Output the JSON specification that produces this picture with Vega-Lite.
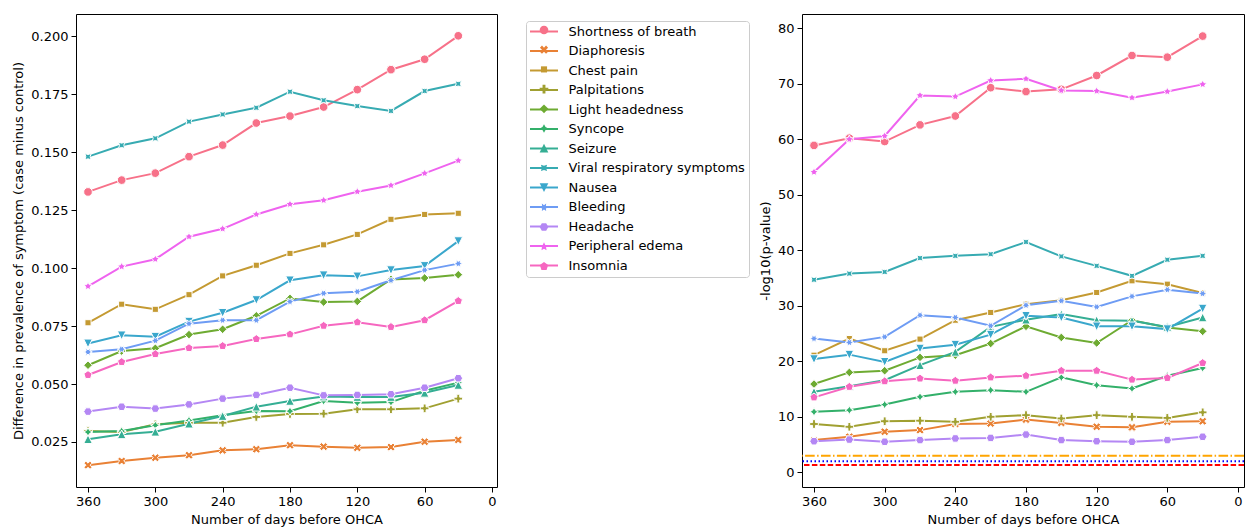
{
  "$schema": "https://vega.github.io/schema/vega-lite/v6.json",
  "background": "white",
  "padding": {"left": 12, "top": 13, "right": 2, "bottom": 4},
  "config": {
    "font": "DejaVu Sans",
    "view": {"stroke": "#000000", "strokeWidth": 1},
    "axis": {
      "grid": false, "domain": false, "labelOverlap": false, "labelFlush": false,
      "labelFont": "DejaVu Sans", "labelFontSize": 13, "labelColor": "#000000", "labelPadding": 3,
      "tickColor": "#000000", "tickSize": 5, "tickWidth": 1,
      "titleFont": "DejaVu Sans", "titleFontSize": 13, "titleFontWeight": "normal", "titleColor": "#000000", "titlePadding": 5
    },
    "legend": {"labelFont": "DejaVu Sans", "labelFontSize": 13, "labelColor": "#000000", "labelLimit": 400}
  },
  "data": {"values": [
    {"symptom": "Shortness of breath", "days": 360, "diff": 0.1328, "logp": 58.9},
    {"symptom": "Shortness of breath", "days": 330, "diff": 0.1379, "logp": 60.2},
    {"symptom": "Shortness of breath", "days": 300, "diff": 0.1409, "logp": 59.6},
    {"symptom": "Shortness of breath", "days": 270, "diff": 0.1480, "logp": 62.6},
    {"symptom": "Shortness of breath", "days": 240, "diff": 0.1530, "logp": 64.2},
    {"symptom": "Shortness of breath", "days": 210, "diff": 0.1625, "logp": 69.3},
    {"symptom": "Shortness of breath", "days": 180, "diff": 0.1655, "logp": 68.6},
    {"symptom": "Shortness of breath", "days": 150, "diff": 0.1694, "logp": 69.0},
    {"symptom": "Shortness of breath", "days": 120, "diff": 0.1769, "logp": 71.5},
    {"symptom": "Shortness of breath", "days": 90, "diff": 0.1855, "logp": 75.1},
    {"symptom": "Shortness of breath", "days": 60, "diff": 0.1900, "logp": 74.8},
    {"symptom": "Shortness of breath", "days": 30, "diff": 0.2001, "logp": 78.6},
    {"symptom": "Diaphoresis", "days": 360, "diff": 0.0150, "logp": 5.8},
    {"symptom": "Diaphoresis", "days": 330, "diff": 0.0168, "logp": 6.4},
    {"symptom": "Diaphoresis", "days": 300, "diff": 0.0182, "logp": 7.3},
    {"symptom": "Diaphoresis", "days": 270, "diff": 0.0193, "logp": 7.6},
    {"symptom": "Diaphoresis", "days": 240, "diff": 0.0214, "logp": 8.7},
    {"symptom": "Diaphoresis", "days": 210, "diff": 0.0219, "logp": 8.8},
    {"symptom": "Diaphoresis", "days": 180, "diff": 0.0236, "logp": 9.5},
    {"symptom": "Diaphoresis", "days": 150, "diff": 0.0230, "logp": 8.9},
    {"symptom": "Diaphoresis", "days": 120, "diff": 0.0225, "logp": 8.2},
    {"symptom": "Diaphoresis", "days": 90, "diff": 0.0228, "logp": 8.1},
    {"symptom": "Diaphoresis", "days": 60, "diff": 0.0251, "logp": 9.1},
    {"symptom": "Diaphoresis", "days": 30, "diff": 0.0259, "logp": 9.2},
    {"symptom": "Chest pain", "days": 360, "diff": 0.0764, "logp": 21.1},
    {"symptom": "Chest pain", "days": 330, "diff": 0.0844, "logp": 24.1},
    {"symptom": "Chest pain", "days": 300, "diff": 0.0822, "logp": 21.9},
    {"symptom": "Chest pain", "days": 270, "diff": 0.0885, "logp": 24.0},
    {"symptom": "Chest pain", "days": 240, "diff": 0.0966, "logp": 27.4},
    {"symptom": "Chest pain", "days": 210, "diff": 0.1012, "logp": 28.8},
    {"symptom": "Chest pain", "days": 180, "diff": 0.1063, "logp": 30.3},
    {"symptom": "Chest pain", "days": 150, "diff": 0.1100, "logp": 31.0},
    {"symptom": "Chest pain", "days": 120, "diff": 0.1145, "logp": 32.4},
    {"symptom": "Chest pain", "days": 90, "diff": 0.1210, "logp": 34.5},
    {"symptom": "Chest pain", "days": 60, "diff": 0.1231, "logp": 33.9},
    {"symptom": "Chest pain", "days": 30, "diff": 0.1236, "logp": 32.3},
    {"symptom": "Palpitations", "days": 360, "diff": 0.0297, "logp": 8.7},
    {"symptom": "Palpitations", "days": 330, "diff": 0.0293, "logp": 8.2},
    {"symptom": "Palpitations", "days": 300, "diff": 0.0326, "logp": 9.2},
    {"symptom": "Palpitations", "days": 270, "diff": 0.0333, "logp": 9.3},
    {"symptom": "Palpitations", "days": 240, "diff": 0.0333, "logp": 9.1},
    {"symptom": "Palpitations", "days": 210, "diff": 0.0358, "logp": 10.0},
    {"symptom": "Palpitations", "days": 180, "diff": 0.0371, "logp": 10.3},
    {"symptom": "Palpitations", "days": 150, "diff": 0.0372, "logp": 9.7},
    {"symptom": "Palpitations", "days": 120, "diff": 0.0391, "logp": 10.3},
    {"symptom": "Palpitations", "days": 90, "diff": 0.0391, "logp": 10.0},
    {"symptom": "Palpitations", "days": 60, "diff": 0.0395, "logp": 9.8},
    {"symptom": "Palpitations", "days": 30, "diff": 0.0437, "logp": 10.8},
    {"symptom": "Light headedness", "days": 360, "diff": 0.0581, "logp": 15.9},
    {"symptom": "Light headedness", "days": 330, "diff": 0.0642, "logp": 18.0},
    {"symptom": "Light headedness", "days": 300, "diff": 0.0654, "logp": 18.3},
    {"symptom": "Light headedness", "days": 270, "diff": 0.0713, "logp": 20.7},
    {"symptom": "Light headedness", "days": 240, "diff": 0.0736, "logp": 21.1},
    {"symptom": "Light headedness", "days": 210, "diff": 0.0794, "logp": 23.2},
    {"symptom": "Light headedness", "days": 180, "diff": 0.0869, "logp": 26.3},
    {"symptom": "Light headedness", "days": 150, "diff": 0.0853, "logp": 24.3},
    {"symptom": "Light headedness", "days": 120, "diff": 0.0856, "logp": 23.3},
    {"symptom": "Light headedness", "days": 90, "diff": 0.0951, "logp": 27.4},
    {"symptom": "Light headedness", "days": 60, "diff": 0.0957, "logp": 26.1},
    {"symptom": "Light headedness", "days": 30, "diff": 0.0971, "logp": 25.4},
    {"symptom": "Syncope", "days": 360, "diff": 0.0293, "logp": 10.9},
    {"symptom": "Syncope", "days": 330, "diff": 0.0297, "logp": 11.2},
    {"symptom": "Syncope", "days": 300, "diff": 0.0322, "logp": 12.2},
    {"symptom": "Syncope", "days": 270, "diff": 0.0343, "logp": 13.6},
    {"symptom": "Syncope", "days": 240, "diff": 0.0365, "logp": 14.5},
    {"symptom": "Syncope", "days": 210, "diff": 0.0384, "logp": 14.8},
    {"symptom": "Syncope", "days": 180, "diff": 0.0383, "logp": 14.5},
    {"symptom": "Syncope", "days": 150, "diff": 0.0427, "logp": 17.1},
    {"symptom": "Syncope", "days": 120, "diff": 0.0419, "logp": 15.7},
    {"symptom": "Syncope", "days": 90, "diff": 0.0422, "logp": 15.1},
    {"symptom": "Syncope", "days": 60, "diff": 0.0471, "logp": 17.4},
    {"symptom": "Syncope", "days": 30, "diff": 0.0506, "logp": 18.8},
    {"symptom": "Seizure", "days": 360, "diff": 0.0262, "logp": 14.5},
    {"symptom": "Seizure", "days": 330, "diff": 0.0283, "logp": 15.5},
    {"symptom": "Seizure", "days": 300, "diff": 0.0294, "logp": 16.6},
    {"symptom": "Seizure", "days": 270, "diff": 0.0329, "logp": 19.3},
    {"symptom": "Seizure", "days": 240, "diff": 0.0362, "logp": 21.7},
    {"symptom": "Seizure", "days": 210, "diff": 0.0402, "logp": 26.2},
    {"symptom": "Seizure", "days": 180, "diff": 0.0427, "logp": 27.5},
    {"symptom": "Seizure", "days": 150, "diff": 0.0446, "logp": 28.5},
    {"symptom": "Seizure", "days": 120, "diff": 0.0444, "logp": 27.4},
    {"symptom": "Seizure", "days": 90, "diff": 0.0444, "logp": 27.3},
    {"symptom": "Seizure", "days": 60, "diff": 0.0462, "logp": 26.2},
    {"symptom": "Seizure", "days": 30, "diff": 0.0496, "logp": 27.9},
    {"symptom": "Viral respiratory symptoms", "days": 360, "diff": 0.1480, "logp": 34.7},
    {"symptom": "Viral respiratory symptoms", "days": 330, "diff": 0.1529, "logp": 35.8},
    {"symptom": "Viral respiratory symptoms", "days": 300, "diff": 0.1559, "logp": 36.1},
    {"symptom": "Viral respiratory symptoms", "days": 270, "diff": 0.1631, "logp": 38.6},
    {"symptom": "Viral respiratory symptoms", "days": 240, "diff": 0.1662, "logp": 39.0},
    {"symptom": "Viral respiratory symptoms", "days": 210, "diff": 0.1691, "logp": 39.3},
    {"symptom": "Viral respiratory symptoms", "days": 180, "diff": 0.1760, "logp": 41.5},
    {"symptom": "Viral respiratory symptoms", "days": 150, "diff": 0.1723, "logp": 38.9},
    {"symptom": "Viral respiratory symptoms", "days": 120, "diff": 0.1698, "logp": 37.2},
    {"symptom": "Viral respiratory symptoms", "days": 90, "diff": 0.1677, "logp": 35.4},
    {"symptom": "Viral respiratory symptoms", "days": 60, "diff": 0.1763, "logp": 38.3},
    {"symptom": "Viral respiratory symptoms", "days": 30, "diff": 0.1794, "logp": 39.0},
    {"symptom": "Nausea", "days": 360, "diff": 0.0675, "logp": 20.4},
    {"symptom": "Nausea", "days": 330, "diff": 0.0710, "logp": 21.2},
    {"symptom": "Nausea", "days": 300, "diff": 0.0704, "logp": 19.9},
    {"symptom": "Nausea", "days": 270, "diff": 0.0769, "logp": 22.3},
    {"symptom": "Nausea", "days": 240, "diff": 0.0807, "logp": 23.0},
    {"symptom": "Nausea", "days": 210, "diff": 0.0862, "logp": 24.8},
    {"symptom": "Nausea", "days": 180, "diff": 0.0947, "logp": 28.2},
    {"symptom": "Nausea", "days": 150, "diff": 0.0969, "logp": 27.9},
    {"symptom": "Nausea", "days": 120, "diff": 0.0964, "logp": 26.3},
    {"symptom": "Nausea", "days": 90, "diff": 0.0991, "logp": 26.3},
    {"symptom": "Nausea", "days": 60, "diff": 0.1009, "logp": 25.8},
    {"symptom": "Nausea", "days": 30, "diff": 0.1116, "logp": 29.5},
    {"symptom": "Bleeding", "days": 360, "diff": 0.0638, "logp": 24.1},
    {"symptom": "Bleeding", "days": 330, "diff": 0.0650, "logp": 23.4},
    {"symptom": "Bleeding", "days": 300, "diff": 0.0687, "logp": 24.4},
    {"symptom": "Bleeding", "days": 270, "diff": 0.0760, "logp": 28.3},
    {"symptom": "Bleeding", "days": 240, "diff": 0.0775, "logp": 27.9},
    {"symptom": "Bleeding", "days": 210, "diff": 0.0775, "logp": 26.4},
    {"symptom": "Bleeding", "days": 180, "diff": 0.0855, "logp": 30.1},
    {"symptom": "Bleeding", "days": 150, "diff": 0.0891, "logp": 30.9},
    {"symptom": "Bleeding", "days": 120, "diff": 0.0898, "logp": 29.8},
    {"symptom": "Bleeding", "days": 90, "diff": 0.0947, "logp": 31.7},
    {"symptom": "Bleeding", "days": 60, "diff": 0.0991, "logp": 32.9},
    {"symptom": "Bleeding", "days": 30, "diff": 0.1019, "logp": 32.2},
    {"symptom": "Headache", "days": 360, "diff": 0.0381, "logp": 5.6},
    {"symptom": "Headache", "days": 330, "diff": 0.0402, "logp": 5.9},
    {"symptom": "Headache", "days": 300, "diff": 0.0394, "logp": 5.5},
    {"symptom": "Headache", "days": 270, "diff": 0.0412, "logp": 5.8},
    {"symptom": "Headache", "days": 240, "diff": 0.0437, "logp": 6.1},
    {"symptom": "Headache", "days": 210, "diff": 0.0453, "logp": 6.2},
    {"symptom": "Headache", "days": 180, "diff": 0.0484, "logp": 6.8},
    {"symptom": "Headache", "days": 150, "diff": 0.0451, "logp": 5.8},
    {"symptom": "Headache", "days": 120, "diff": 0.0453, "logp": 5.6},
    {"symptom": "Headache", "days": 90, "diff": 0.0456, "logp": 5.5},
    {"symptom": "Headache", "days": 60, "diff": 0.0484, "logp": 5.8},
    {"symptom": "Headache", "days": 30, "diff": 0.0525, "logp": 6.4},
    {"symptom": "Peripheral edema", "days": 360, "diff": 0.0921, "logp": 54.1},
    {"symptom": "Peripheral edema", "days": 330, "diff": 0.1006, "logp": 60.0},
    {"symptom": "Peripheral edema", "days": 300, "diff": 0.1038, "logp": 60.6},
    {"symptom": "Peripheral edema", "days": 270, "diff": 0.1135, "logp": 67.9},
    {"symptom": "Peripheral edema", "days": 240, "diff": 0.1169, "logp": 67.7},
    {"symptom": "Peripheral edema", "days": 210, "diff": 0.1231, "logp": 70.6},
    {"symptom": "Peripheral edema", "days": 180, "diff": 0.1275, "logp": 70.9},
    {"symptom": "Peripheral edema", "days": 150, "diff": 0.1292, "logp": 68.8},
    {"symptom": "Peripheral edema", "days": 120, "diff": 0.1329, "logp": 68.7},
    {"symptom": "Peripheral edema", "days": 90, "diff": 0.1356, "logp": 67.5},
    {"symptom": "Peripheral edema", "days": 60, "diff": 0.1408, "logp": 68.6},
    {"symptom": "Peripheral edema", "days": 30, "diff": 0.1463, "logp": 69.9},
    {"symptom": "Insomnia", "days": 360, "diff": 0.0539, "logp": 13.5},
    {"symptom": "Insomnia", "days": 330, "diff": 0.0595, "logp": 15.4},
    {"symptom": "Insomnia", "days": 300, "diff": 0.0629, "logp": 16.4},
    {"symptom": "Insomnia", "days": 270, "diff": 0.0655, "logp": 16.9},
    {"symptom": "Insomnia", "days": 240, "diff": 0.0664, "logp": 16.5},
    {"symptom": "Insomnia", "days": 210, "diff": 0.0694, "logp": 17.1},
    {"symptom": "Insomnia", "days": 180, "diff": 0.0714, "logp": 17.4},
    {"symptom": "Insomnia", "days": 150, "diff": 0.0751, "logp": 18.3},
    {"symptom": "Insomnia", "days": 120, "diff": 0.0766, "logp": 18.3},
    {"symptom": "Insomnia", "days": 90, "diff": 0.0746, "logp": 16.7},
    {"symptom": "Insomnia", "days": 60, "diff": 0.0775, "logp": 17.0},
    {"symptom": "Insomnia", "days": 30, "diff": 0.0858, "logp": 19.7}
  ]},
  "spacing": 260,
  "hconcat": [
    {
      "width": 421,
      "height": 473,
      "layer": [
        {
          "mark": {"type": "line", "strokeWidth": 2},
          "encoding": {
            "x": {"field": "days", "type": "quantitative", "scale": {"domain": [-4.5, 370.7], "reverse": true, "nice": false, "zero": false}, "axis": {"values": [360, 330, 300, 270, 240, 210, 180, 150, 120, 90, 60, 30, 0], "labelAngle": 0, "title": "Number of days before OHCA"}},
            "y": {"field": "diff", "type": "quantitative", "scale": {"domain": [0.0056, 0.2095], "nice": false, "zero": false}, "axis": {"values": [0.025, 0.05, 0.075, 0.1, 0.125, 0.15, 0.175, 0.2], "format": ".3f", "title": "Difference in prevalence of symptom (case minus control)"}},
            "stroke": {
              "field": "symptom", "type": "nominal", "sort": null,
              "scale": {"range": ["#f77189", "#e98135", "#c49a32", "#a0a031", "#6eab32", "#33b06a", "#35ae94", "#37abb2", "#3aa7cc", "#6e9cf4", "#b487f4", "#ef63ef", "#f667c0"]},
              "legend": {"orient": "none", "legendX": 450, "legendY": 7, "title": null, "symbolType": "M-14,0L14,0", "symbolSize": 4, "symbolOffset": 7.5, "symbolStrokeWidth": 2, "labelOffset": 18, "padding": 4, "rowPadding": 5.5, "strokeColor": "#cccccc", "cornerRadius": 3}
            }
          }
        },
        {
          "mark": {"type": "point", "filled": true, "size": 75, "stroke": "white", "strokeWidth": 1, "opacity": 1},
          "encoding": {
            "x": {"field": "days", "type": "quantitative"},
            "y": {"field": "diff", "type": "quantitative"},
            "fill": {
              "field": "symptom", "type": "nominal",
              "scale": {
                "domain": ["Shortness of breath", "Diaphoresis", "Chest pain", "Palpitations", "Light headedness", "Syncope", "Seizure", "Viral respiratory symptoms", "Nausea", "Bleeding", "Headache", "Peripheral edema", "Insomnia"],
                "range": ["#f77189", "#e98135", "#c49a32", "#a0a031", "#6eab32", "#33b06a", "#35ae94", "#37abb2", "#3aa7cc", "#6e9cf4", "#b487f4", "#ef63ef", "#f667c0"]
              },
              "legend": {"orient": "none", "legendX": 457.5, "legendY": 5.5, "title": null, "symbolSize": 75, "symbolStrokeColor": "white", "symbolStrokeWidth": 1, "labelExpr": "''", "padding": 4, "rowPadding": 5.7, "zindex": 2}
            },
            "shape": {
              "field": "symptom", "type": "nominal",
              "scale": {
                "domain": ["Shortness of breath", "Diaphoresis", "Chest pain", "Palpitations", "Light headedness", "Syncope", "Seizure", "Viral respiratory symptoms", "Nausea", "Bleeding", "Headache", "Peripheral edema", "Insomnia"],
                "range": [
                  "circle",
                  "M0.471,-0.943L0.943,-0.471L0.471,0L0.943,0.471L0.471,0.943L0,0.471L-0.471,0.943L-0.943,0.471L-0.471,0L-0.943,-0.471L-0.471,-0.943L0,-0.471Z",
                  "M-0.707,-0.707L0.707,-0.707L0.707,0.707L-0.707,0.707Z",
                  "M-0.333,-1L0.333,-1L0.333,-0.333L1,-0.333L1,0.333L0.333,0.333L0.333,1L-0.333,1L-0.333,0.333L-1,0.333L-1,-0.333L-0.333,-0.333Z",
                  "M0,-1L1,0L0,1L-1,0Z",
                  "M0,-1L0.354,-0.354L1,0L0.354,0.354L0,1L-0.354,0.354L-1,0L-0.354,-0.354Z",
                  "M0,-1L1,1L-1,1Z",
                  "M0,-0.5L0.707,-0.707L0.5,0L0.707,0.707L0,0.5L-0.707,0.707L-0.5,0L-0.707,-0.707Z",
                  "M0,1L1,-1L-1,-1Z",
                  "M0,-0.5L0.5,-0.866L0.433,-0.25L1,0L0.433,0.25L0.5,0.866L0,0.5L-0.5,0.866L-0.433,0.25L-1,0L-0.433,-0.25L-0.5,-0.866Z",
                  "M0.5,-0.866L1,0L0.5,0.866L-0.5,0.866L-1,0L-0.5,-0.866Z",
                  "M0,-1L0.294,-0.405L0.951,-0.309L0.476,0.155L0.588,0.809L0,0.5L-0.588,0.809L-0.476,0.155L-0.951,-0.309L-0.294,-0.405Z",
                  "M0,-1L0.951,-0.309L0.588,0.809L-0.588,0.809L-0.951,-0.309Z"
                ]
              },
              "legend": {"orient": "none", "legendX": 457.5, "legendY": 5.5, "title": null, "symbolSize": 75, "symbolStrokeColor": "white", "symbolStrokeWidth": 1, "labelExpr": "''", "padding": 4, "rowPadding": 5.7, "zindex": 2}
            }
          }
        }
      ]
    },
    {
      "width": 442,
      "height": 473,
      "layer": [
        {
          "mark": {"type": "line", "strokeWidth": 2},
          "encoding": {
            "x": {"field": "days", "type": "quantitative", "scale": {"domain": [-5.1, 370.2], "reverse": true, "nice": false, "zero": false}, "axis": {"values": [360, 330, 300, 270, 240, 210, 180, 150, 120, 90, 60, 30, 0], "labelAngle": 0, "title": "Number of days before OHCA"}},
            "y": {"field": "logp", "type": "quantitative", "scale": {"domain": [-2.65, 82.58], "nice": false, "zero": false}, "axis": {"values": [0, 10, 20, 30, 40, 50, 60, 70, 80], "title": "-log10(p-value)"}},
            "stroke": {"field": "symptom", "type": "nominal", "sort": null, "legend": null}
          }
        },
        {
          "mark": {"type": "point", "filled": true, "size": 75, "stroke": "white", "strokeWidth": 1, "opacity": 1},
          "encoding": {
            "x": {"field": "days", "type": "quantitative"},
            "y": {"field": "logp", "type": "quantitative"},
            "fill": {"field": "symptom", "type": "nominal", "legend": null},
            "shape": {"field": "symptom", "type": "nominal", "legend": null}
          }
        },
        {
          "data": {"values": [{"threshold": 3.0}]},
          "mark": {"type": "rule", "color": "#ffa500", "strokeWidth": 2, "strokeDash": [9.6, 2.4, 1.5, 2.4]},
          "encoding": {"y": {"field": "threshold", "type": "quantitative"}}
        },
        {
          "data": {"values": [{"threshold": 2.0}]},
          "mark": {"type": "rule", "color": "#0000ff", "strokeWidth": 2, "strokeDash": [1.5, 2.5]},
          "encoding": {"y": {"field": "threshold", "type": "quantitative"}}
        },
        {
          "data": {"values": [{"threshold": 1.3}]},
          "mark": {"type": "rule", "color": "#ff0000", "strokeWidth": 2, "strokeDash": [5.5, 2.4]},
          "encoding": {"y": {"field": "threshold", "type": "quantitative"}}
        }
      ]
    }
  ]
}
